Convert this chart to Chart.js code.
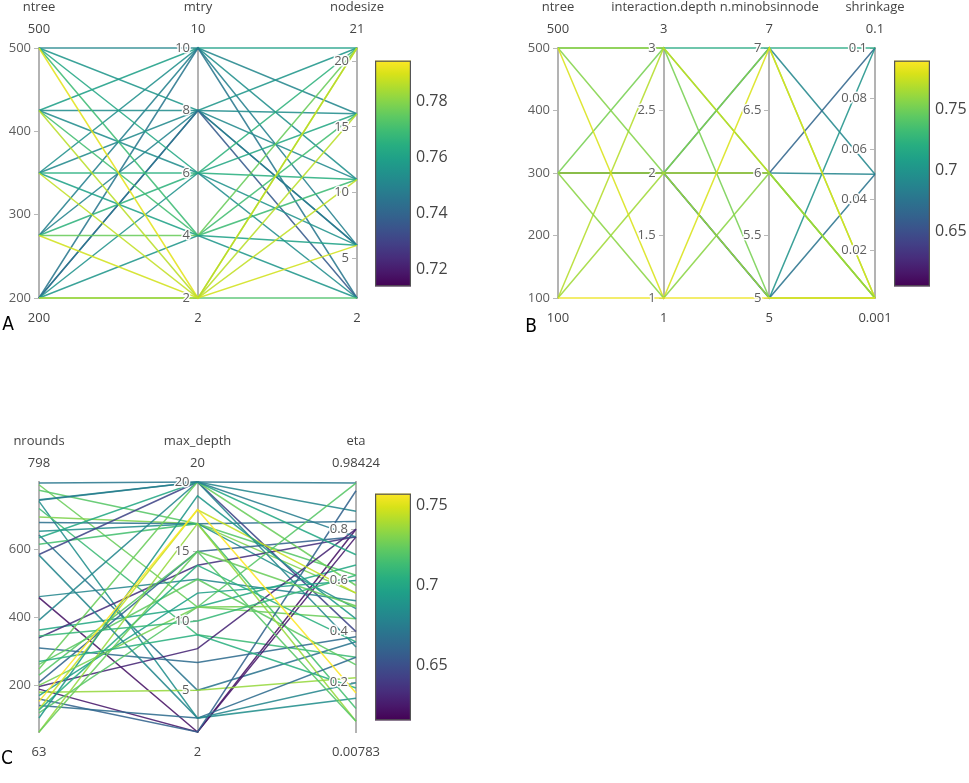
<!DOCTYPE html>
<html><head><meta charset="utf-8">
<script src="https://cdn.jsdelivr.net/npm/chart.js@4.4.0/dist/chart.umd.min.js"></script>
<style>
html,body{margin:0;padding:0;background:#fff;width:969px;height:783px;overflow:hidden;}
canvas{position:absolute;display:block;}
</style></head><body>
<canvas id="cA" width="420" height="340" style="left:0;top:0;width:420px;height:340px"></canvas>
<canvas id="cB" width="469" height="340" style="left:500px;top:0;width:469px;height:340px"></canvas>
<canvas id="cC" width="420" height="363" style="left:0;top:420px;width:420px;height:363px"></canvas>
<canvas id="barA" width="95" height="255" style="left:375px;top:46px;width:95px;height:255px"></canvas>
<canvas id="barB" width="75" height="255" style="left:894px;top:46px;width:75px;height:255px"></canvas>
<canvas id="barC" width="95" height="256" style="left:375px;top:479px;width:95px;height:256px"></canvas>
<script>
// ---------- Panel A (random forest) ----------
const A_dims = ['ntree', 'mtry', 'nodesize'];
const A_min = [200, 2, 2];
const A_max = [500, 10, 21];
const A_ticks = [[200, 300, 400, 500], [2, 4, 6, 8, 10], [5, 10, 15, 20]];
const A_ntree    = [500, 425, 350, 275, 200,  500, 425, 350, 275, 200, 200,  500, 425, 350, 275, 200,  500, 425, 350, 275, 200,  200, 500, 425, 350, 275, 200];
const A_mtry     = [10, 10, 10, 10, 10,       8, 8, 8, 8, 8, 8,             6, 6, 6, 6, 6,            4, 4, 4, 4, 4,            2, 2, 2, 2, 2, 2];
const A_nodesize = [16, 21, 11, 6, 2,         21, 16, 11, 6, 2, 6,          16, 2, 11, 21, 6,         11, 16, 6, 21, 2,         2, 21, 16, 11, 6, 21];
const A_score    = [0.751, 0.759, 0.754, 0.749, 0.746,
                    0.756, 0.753, 0.752, 0.750, 0.737, 0.746,
                    0.762, 0.753, 0.765, 0.766, 0.755,
                    0.769, 0.770, 0.760, 0.776, 0.756,
                    0.772, 0.791, 0.786, 0.787, 0.789, 0.785];
const A_cmin = 0.7141, A_cmax = 0.7944;
const A_cticks = [0.72, 0.74, 0.76, 0.78];

// ---------- Panel B (gbm) ----------
const B_dims = ['ntree', 'interaction.depth', 'n.minobsinnode', 'shrinkage'];
const B_min = [100, 1, 5, 0.001];
const B_max = [500, 3, 7, 0.1];
const B_ticks = [[100, 200, 300, 400, 500], [1, 1.5, 2, 2.5, 3], [5, 5.5, 6, 6.5, 7], [0.02, 0.04, 0.06, 0.08, 0.1]];
const B_ntree  = [300, 300, 300, 300, 300, 500,   500, 300, 100, 500, 300, 100, 500, 300, 100];
const B_depth  = [2, 2, 2, 2, 2, 3,               3, 3, 3, 2, 2, 2, 1, 1, 1];
const B_minobs = [7, 6, 6, 5, 5, 7,               6, 5, 6, 7, 6, 5, 7, 6, 5];
const B_shrink = [0.05, 0.1, 0.05, 0.1, 0.05, 0.1, 0.001, 0.001, 0.001, 0.001, 0.001, 0.001, 0.001, 0.001, 0.001];
const B_score  = [0.690, 0.665, 0.688, 0.700, 0.676, 0.718,
                  0.765, 0.752, 0.770, 0.756, 0.772, 0.764, 0.780, 0.758, 0.786];
const B_cmin = 0.6044, B_cmax = 0.7903;
const B_cticks = [0.65, 0.7, 0.75];

// ---------- Panel C (xgboost) ----------
const C_dims = ['nrounds', 'max_depth', 'eta'];
const C_min = [63, 2, 0.00783];
const C_max = [798, 20, 0.98424];
const C_ticks = [[200, 400, 600], [5, 10, 15, 20], [0.2, 0.4, 0.6, 0.8]];
const C_nrounds = [795, 790, 774, 746, 741, 720, 695, 679, 653, 642, 615, 585, 461, 458, 392, 363, 340, 310, 262, 248,
                   209, 197, 189, 180, 170, 160, 141, 130, 128, 119, 104, 63, 63, 634, 583, 200, 345, 230, 744, 270, 153];
const C_depth   = [20, 11, 17, 20, 3, 9, 17, 17, 17, 5, 17, 20, 13, 2, 20, 11, 14, 7, 13, 20,
                   15, 8, 2, 5, 12, 2, 3, 18, 14, 11, 19, 17, 15, 20, 3, 11, 10, 15, 20, 9, 18];
const C_eta     = [0.98, 0.45, 0.62, 0.87, 0.14, 0.30, 0.55, 0.83, 0.49, 0.36, 0.10, 0.40, 0.52, 0.80, 0.34, 0.66, 0.77, 0.38, 0.27, 0.58,
                   0.77, 0.80, 0.77, 0.22, 0.60, 0.95, 0.30, 0.55, 0.36, 0.98, 0.45, 0.05, 0.50, 0.70, 0.20, 0.50, 0.62, 0.05, 0.77, 0.18, 0.16];
const C_score   = [0.672, 0.725, 0.720, 0.680, 0.685, 0.712, 0.730, 0.668, 0.685, 0.670, 0.715, 0.645, 0.680, 0.622, 0.680, 0.700, 0.635, 0.665, 0.722, 0.725,
                   0.660, 0.630, 0.625, 0.735, 0.695, 0.660, 0.665, 0.745, 0.705, 0.720, 0.690, 0.735, 0.725, 0.700, 0.680, 0.728, 0.710, 0.720, 0.675, 0.705, 0.757];
const C_cmin = 0.6155, C_cmax = 0.7571;
const C_cticks = [0.65, 0.7, 0.75];

// ---------- colours ----------
const viridisStops = [
  [0, '#440154'], [0.0627, '#48186a'], [0.1255, '#472d7b'], [0.1882, '#424086'], [0.2510, '#3b528b'],
  [0.3137, '#33638d'], [0.3765, '#2c728e'], [0.4392, '#26828e'], [0.5020, '#21918c'], [0.5647, '#1fa088'],
  [0.6275, '#28ae80'], [0.6902, '#3fbc73'], [0.7529, '#5ec962'], [0.8157, '#84d44b'], [0.8784, '#addc30'],
  [0.9412, '#d8e219'], [1, '#fde725']];
function hex(h) { return [parseInt(h.slice(1,3),16), parseInt(h.slice(3,5),16), parseInt(h.slice(5,7),16)]; }
function viridis(t, a) {
  t = Math.max(0, Math.min(1, t));
  for (let i = 1; i < viridisStops.length; i++) {
    if (t <= viridisStops[i][0]) {
      const [t0, c0] = viridisStops[i-1], [t1, c1] = viridisStops[i];
      const f = (t - t0) / (t1 - t0), p = hex(c0), q = hex(c1);
      const c = p.map((v, k) => Math.round(v + (q[k] - v) * f));
      return `rgba(${c[0]},${c[1]},${c[2]},${a})`;
    }
  }
  return viridisStops[viridisStops.length-1][1];
}

const FONT = '"Open Sans", "Liberation Sans", sans-serif';

function makePanel(id, dims, mins, maxs, ticks, cols, score, cmin, cmax, minL, maxL, letter, pad, letterPos) {
  const n = dims.length;
  const datasets = score.map((s, k) => ({
    data: cols.map((col, i) => ({x: i, y: (col[k] - mins[i]) / (maxs[i] - mins[i])})),
    borderColor: viridis((s - cmin) / (cmax - cmin), 0.88),
    borderWidth: 1.5, pointRadius: 0, tension: 0, fill: false, clip: false,
    xAxisID: 'x', yAxisID: 'yn'
  })).reverse();
  const scales = {
    x: {type: 'linear', min: 0, max: n - 1, display: false},
    yn: {type: 'linear', min: 0, max: 1, display: false}
  };
  dims.forEach((d, i) => {
    scales['ya' + i] = {
      type: 'linear', axis: 'y', position: {x: i}, min: mins[i], max: maxs[i], z: 1,
      afterBuildTicks: s => { s.ticks = ticks[i].map(v => ({value: v})); },
      grid: {display: true, drawOnChartArea: false, drawTicks: true, tickLength: 4, color: '#b8b8b8', lineWidth: 1},
      border: {display: true, color: 'rgba(175,175,175,0.95)', width: 2},
      ticks: {display: false}
    };
  });
  const textPlugin = {
    id: 'ptext' + id,
    afterDraw(chart) {
      const ctx = chart.ctx, xs = chart.scales.x, ca = chart.chartArea;
      ctx.save();
      ctx.textBaseline = 'middle';
      // tick labels, from each parameter axis
      ctx.font = '13px ' + FONT;
      ctx.textAlign = 'right';
      ctx.lineJoin = 'round';
      dims.forEach((d, i) => {
        const sc = chart.scales['ya' + i];
        const x = xs.getPixelForValue(i) - 8;
        sc.ticks.forEach(t => {
          const y = sc.getPixelForValue(t.value);
          ctx.strokeStyle = 'rgba(255,255,255,0.95)'; ctx.lineWidth = 3;
          ctx.strokeText(String(t.value), x, y);
          ctx.fillStyle = '#5e5e5e';
          ctx.fillText(String(t.value), x, y);
        });
      });
      ctx.fillStyle = '#444'; ctx.textAlign = 'center';
      ctx.font = '13px ' + FONT;
      dims.forEach((d, i) => {
        const x = xs.getPixelForValue(i);
        ctx.fillText(d, x, ca.top - 41);
        ctx.fillText(maxL[i], x, ca.top - 19);
        ctx.fillText(minL[i], x, ca.bottom + 20);
      });
      ctx.fillStyle = '#000';
      ctx.font = '19px "Liberation Sans Narrow", "DejaVu Sans Condensed", sans-serif';
      ctx.fillText(letter, letterPos[0], letterPos[1]);
      ctx.restore();
    }
  };
  new Chart(document.getElementById(id), {
    type: 'line',
    data: {datasets},
    options: {
      responsive: false, animation: false, events: [],
      layout: {padding: pad},
      plugins: {legend: {display: false}, tooltip: {enabled: false}},
      scales
    },
    plugins: [textPlugin]
  });
}

function makeBar(id, cmin, cmax, ticks) {
  const barPlugin = {
    id: 'bar' + id,
    beforeDraw(chart) {
      const ctx = chart.ctx, ca = chart.chartArea;
      const g = ctx.createLinearGradient(0, ca.bottom, 0, ca.top);
      viridisStops.forEach(([t, c]) => g.addColorStop(t, c));
      ctx.save();
      ctx.fillStyle = g;
      ctx.fillRect(ca.left, ca.top, ca.right - ca.left, ca.bottom - ca.top);
      ctx.strokeStyle = '#555'; ctx.lineWidth = 1.2;
      ctx.strokeRect(ca.left + 0.6, ca.top + 0.6, ca.right - ca.left - 1.2, ca.bottom - ca.top - 1.2);
      ctx.restore();
    }
  };
  new Chart(document.getElementById(id), {
    type: 'scatter',
    data: {datasets: [{data: []}]},
    options: {
      responsive: false, animation: false, events: [],
      layout: {padding: {top: 12, bottom: 12, left: 0, right: 0}},
      plugins: {legend: {display: false}, tooltip: {enabled: false}},
      scales: {
        x: {display: false},
        y: {position: 'right', min: cmin, max: cmax,
            afterBuildTicks: s => { s.ticks = ticks.map(v => ({value: v})); },
            afterFit: s => { s.width = s.chart.width - 36; },
            grid: {display: false, drawTicks: false}, border: {display: false},
            ticks: {padding: 5, font: {family: FONT, size: 16}, color: '#444', callback: v => String(v)}}
      }
    },
    plugins: [barPlugin]
  });
}

makePanel('cA', A_dims, A_min, A_max, A_ticks, [A_ntree, A_mtry, A_nodesize], A_score, A_cmin, A_cmax,
  ['200', '2', '2'], ['500', '10', '21'], 'A', {left: 39, right: 63, top: 48, bottom: 42}, [8, 325]);
makePanel('cB', B_dims, B_min, B_max, B_ticks, [B_ntree, B_depth, B_minobs, B_shrink], B_score, B_cmin, B_cmax,
  ['100', '1', '5', '0.001'], ['500', '3', '7', '0.1'], 'B', {left: 58, right: 94, top: 48, bottom: 42}, [31, 327]);
makePanel('cC', C_dims, C_min, C_max, C_ticks, [C_nrounds, C_depth, C_eta], C_score, C_cmin, C_cmax,
  ['63', '2', '0.00783'], ['798', '20', '0.98424'], 'C', {left: 39, right: 64, top: 62, bottom: 51}, [7, 339]);
makeBar('barA', A_cmin, A_cmax, A_cticks);
makeBar('barB', B_cmin, B_cmax, B_cticks);
makeBar('barC', C_cmin, C_cmax, C_cticks);
</script>
</body></html>
